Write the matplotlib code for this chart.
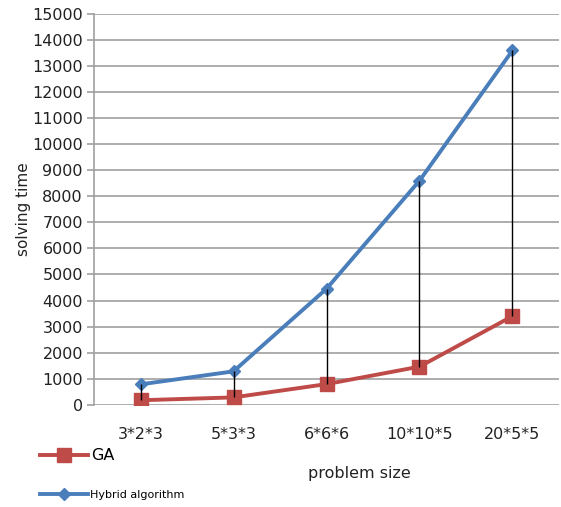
import matplotlib.pyplot as plt

# problem sizes and solving times
sizes = ['3*2*3', '5*3*3', '6*6*6', '10*10*5', '20*5*5']
ga_time = [170, 280, 790, 1460, 3400]
hybrid_time = [780, 1280, 4450, 8600, 13600]

blue = '#4A7EBB'
red = '#BE4B48'
grid_gray = '#A0A0A0'

fig = plt.figure(figsize=(5.61, 5.07), dpi=100)
ax = fig.add_axes([0.1676, 0.2018, 0.8288, 0.7706])

x = list(range(len(sizes)))

ga_line, = ax.plot(x, ga_time, color=red, linewidth=2.8, marker='s',
                   markersize=10, zorder=3)
hy_line, = ax.plot(x, hybrid_time, color=blue, linewidth=2.8, marker='D',
                   markersize=6, zorder=4)

# high-low lines between the two series, drawn over the markers
ax.vlines(x, ga_time, hybrid_time, colors='black', linewidth=1.0, zorder=5)

ax.set_xlim(-0.5, 4.5)
ax.set_ylim(0, 15000)
ax.set_yticks(range(0, 15001, 1000))
ax.set_xticks(x)
ax.set_xticklabels(sizes)

ax.grid(axis='y', color=grid_gray, linewidth=1.2)
ax.set_axisbelow(True)
for side in ['top', 'right', 'bottom']:
    ax.spines[side].set_visible(False)
ax.spines['left'].set_color(grid_gray)
ax.spines['left'].set_linewidth(1.2)

ax.tick_params(axis='y', length=5, width=1.2, color=grid_gray,
               labelsize=11.5, pad=3, labelcolor='#222222')
ax.tick_params(axis='x', length=0, pad=16, labelsize=11.5,
               labelcolor='#222222')

ax.set_ylabel('solving time', fontsize=11, color='#222222', labelpad=1)
ax.set_xlabel('problem size', fontsize=11.5, color='#222222')
ax.xaxis.set_label_coords(0.57, -0.157)

fig.legend(handles=[ga_line], labels=['GA'], loc='center left',
           bbox_to_anchor=(0.072, 1 - 456 / 507), frameon=False,
           fontsize=11.5, handlelength=3.0, handletextpad=0.15,
           borderpad=0, borderaxespad=0)
fig.legend(handles=[hy_line], labels=['Hybrid algorithm'], loc='center left',
           bbox_to_anchor=(0.072, 1 - 495 / 507), frameon=False,
           fontsize=8, handlelength=4.3, handletextpad=0.2,
           borderpad=0, borderaxespad=0)

fig.savefig('out.png', dpi=100)
